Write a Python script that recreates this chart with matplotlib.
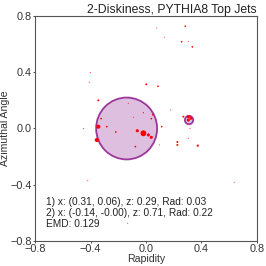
import matplotlib
matplotlib.use("Agg")
import matplotlib.pyplot as plt
from matplotlib.patches import Circle

plt.rcParams['font.family'] = ['Liberation Sans', 'DejaVu Sans']

# частицы струи: rapidity, azimuth, вес (pT)
part_y = [0.077, 0.283, 0.132, 0.257, 0.305, 0.334, -0.401, -0.409, 0.002, 0.086,
          -0.344, -0.324, -0.344, -0.355, -0.452, -0.283, -0.218, -0.128, -0.019, -0.092,
          0.048, 0.038, -0.063, -0.019, 0.017, 0.038, -0.077, 0.113, 0.178, 0.305,
          0.324, 0.305, 0.269, 0.226, 0.226, 0.373, 0.317, 0.305, 0.096, -0.420,
          0.636, -0.132]
part_phi = [0.715, 0.727, 0.649, 0.617, 0.617, 0.580, 0.397, 0.329, 0.314, 0.300,
            0.200, 0.070, 0.013, -0.082, -0.001, 0.013, -0.025, 0.179, 0.112, 0.080,
            0.098, 0.070, -0.016, -0.034, -0.046, -0.063, -0.129, 0.013, 0.132, 0.084,
            0.073, 0.060, 0.084, -0.096, -0.117, -0.122, 0.000, -0.070, -0.117, -0.371,
            -0.383, -0.674]
part_pt = [0.5, 1.5, 0.5, 1.5, 0.5, 1.5, 0.5, 0.5, 2.0, 1.5,
           2.0, 1.5, 9.0, 9.0, 0.5, 1.5, 1.5, 0.5, 0.8, 0.5,
           1.5, 1.5, 5.0, 18.0, 5.0, 5.0, 1.5, 1.5, 0.5, 5.0,
           5.0, 5.0, 2.0, 2.0, 2.0, 2.5, 0.5, 0.5, 0.5, 0.5,
           0.5, 0.5]

# диски: центр, радиус
disk_x = [0.31, -0.14]
disk_y = [0.06, -0.00]
disk_z = [0.29, 0.71]
disk_r = [0.03, 0.22]
emd = 0.129

fig = plt.figure(figsize=(2.66, 2.66), dpi=100)
ax = fig.add_axes([0.132, 0.094, 0.834, 0.846])

# отрисовка дисков
for cx, cy, r in zip(disk_x, disk_y, disk_r):
    ax.add_patch(Circle((cx, cy), r, facecolor='purple', alpha=0.25, edgecolor='none', zorder=1))
    ax.add_patch(Circle((cx, cy), r, facecolor='none', edgecolor='purple', alpha=0.75, lw=1.3, zorder=2))

# частицы
ax.scatter(part_y, part_phi, s=part_pt, color='red', linewidths=0, zorder=3)

ax.set_xlim(-0.8, 0.8)
ax.set_ylim(-0.8, 0.8)
ticks = [-0.8, -0.4, 0.0, 0.4, 0.8]
ax.set_xticks(ticks)
ax.set_yticks(ticks)
ax.tick_params(labelsize=7.8, length=1.5, width=0.6, pad=1, colors='#333333')
for sp in ax.spines.values():
    sp.set_color('#555555')
    sp.set_linewidth(0.8)

ax.set_xlabel('Rapidity', fontsize=7.6, labelpad=0, color='#333333')
ax.set_ylabel('Azimuthal Angle', fontsize=7.6, labelpad=0, color='#333333')
ax.set_title('2-Diskiness, PYTHIA8 Top Jets', fontsize=8.8, loc='right', pad=2, color='#222222')

lines = []
for i in range(len(disk_x)):
    lines.append("%d) x: (%.2f, %.2f), z: %.2f, Rad: %.2f" % (i + 1, disk_x[i], disk_y[i], disk_z[i], disk_r[i]))
lines.append("EMD: %.3f" % emd)
ax.text(0.05, 0.055, "\n".join(lines), transform=ax.transAxes, fontsize=7.3,
        va='bottom', ha='left', linespacing=1.1, color='#222222')

fig.savefig('out.png', dpi=100)
